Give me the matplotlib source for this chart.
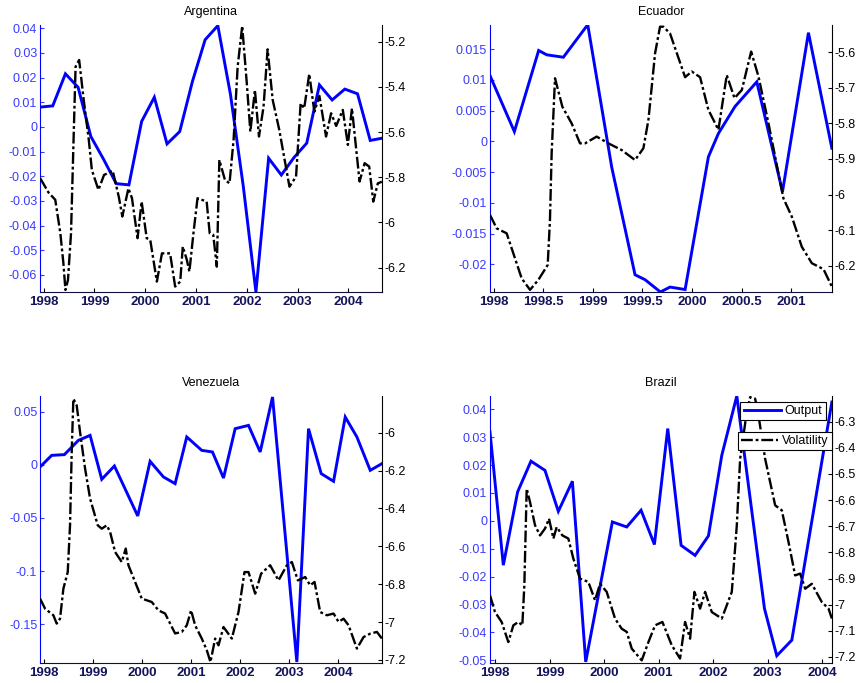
import matplotlib
matplotlib.use("Agg")
import matplotlib.pyplot as plt
from matplotlib.ticker import FuncFormatter

plt.rcParams["font.family"] = ["Liberation Sans", "DejaVu Sans"]

# ---- Argentina ----
arg_out_year = [1997.93, 1998.18, 1998.43, 1998.68, 1998.93, 1999.18, 1999.43, 1999.68,
                1999.93, 2000.18, 2000.43, 2000.68, 2000.93, 2001.18, 2001.43, 2001.68,
                2001.93, 2002.18, 2002.43, 2002.68, 2002.93, 2003.18, 2003.43, 2003.68,
                2003.93, 2004.18, 2004.43, 2004.66]
arg_out = [0.008, 0.0085, 0.0215, 0.016, -0.0039, -0.0131, -0.023, -0.0235,
           0.0022, 0.012, -0.0069, -0.0019, 0.0184, 0.0353, 0.041, 0.013,
           -0.0239, -0.0669, -0.0127, -0.0195, -0.0124, -0.0066, 0.017, 0.0109,
           0.0153, 0.0134, -0.0055, -0.0046]
arg_vol_year = [1997.934, 1998.098, 1998.23, 1998.33, 1998.39, 1998.43, 1998.48, 1998.54,
                1998.59, 1998.63, 1998.70, 1998.79, 1998.89, 1998.95, 1999.08, 1999.19,
                1999.36, 1999.48, 1999.55, 1999.67, 1999.74, 1999.85, 1999.93, 2000.03,
                2000.10, 2000.23, 2000.33, 2000.49, 2000.59, 2000.69, 2000.74, 2000.82,
                2000.87, 2000.95, 2001.03, 2001.21, 2001.27, 2001.34, 2001.41, 2001.46,
                2001.57, 2001.66, 2001.74, 2001.82, 2001.91, 2002.0, 2002.07, 2002.16,
                2002.24, 2002.33, 2002.41, 2002.51, 2002.64, 2002.84, 2002.97, 2003.06,
                2003.13, 2003.23, 2003.33, 2003.43, 2003.56, 2003.66, 2003.76, 2003.89,
                2003.99, 2004.07, 2004.22, 2004.32, 2004.41, 2004.49, 2004.58, 2004.66]
arg_vol = [-5.805, -5.868, -5.90, -6.048, -6.181, -6.299, -6.255, -6.048,
           -5.635, -5.311, -5.281, -5.458, -5.635, -5.768, -5.856, -5.79,
           -5.771, -5.886, -5.974, -5.849, -5.893, -6.07, -5.908, -6.07,
           -6.078, -6.262, -6.137, -6.137, -6.284, -6.262, -6.107, -6.166,
           -6.218, -6.048, -5.893, -5.908, -6.048, -6.055, -6.196, -5.724,
           -5.812, -5.827, -5.635, -5.311, -5.131, -5.384, -5.598, -5.414,
           -5.62, -5.488, -5.234, -5.458, -5.591, -5.842, -5.797, -5.473,
           -5.495, -5.343, -5.51, -5.44, -5.62, -5.517, -5.573, -5.502,
           -5.657, -5.495, -5.819, -5.738, -5.753, -5.908, -5.827, -5.82]

# ---- Ecuador ----
ecu_out_year = [1997.966, 1998.209, 1998.454, 1998.535, 1998.703, 1998.949, 1999.191,
                1999.426, 1999.527, 1999.682, 1999.779, 1999.931, 2000.166, 2000.267,
                2000.435, 2000.654, 2000.913, 2001.175, 2001.411]
ecu_out = [0.0106, 0.0016, 0.0148, 0.0141, 0.0137, 0.019, -0.0042,
           -0.0217, -0.0225, -0.0245, -0.0237, -0.0241, -0.0025, 0.0013,
           0.0057, 0.0097, -0.0082, 0.0177, -0.0011]
ecu_vol_year = [1997.963, 1998.03, 1998.131, 1998.215, 1998.283, 1998.367, 1998.451, 1998.545,
                1998.568, 1998.585, 1998.619, 1998.693, 1998.787, 1998.871, 1998.922, 1999.039,
                1999.157, 1999.292, 1999.426, 1999.51, 1999.561, 1999.628, 1999.678, 1999.712,
                1999.779, 1999.931, 1999.998, 2000.082, 2000.166, 2000.267, 2000.351, 2000.429,
                2000.503, 2000.597, 2000.671, 2000.772, 2000.923, 2001.007, 2001.108, 2001.209,
                2001.327, 2001.411]
ecu_vol = [-6.057, -6.095, -6.109, -6.179, -6.236, -6.268, -6.240, -6.198,
           -6.072, -5.884, -5.673, -5.753, -5.80, -5.856, -5.856, -5.837,
           -5.856, -5.875, -5.903, -5.87, -5.79, -5.603, -5.528, -5.528,
           -5.547, -5.670, -5.654, -5.670, -5.762, -5.818, -5.664, -5.729,
           -5.706, -5.598, -5.668, -5.80, -6.011, -6.062, -6.147, -6.193,
           -6.21, -6.259]

# ---- Venezuela ----
ven_out_year = [1997.925, 1998.163, 1998.422, 1998.707, 1998.946, 1999.184, 1999.442,
                1999.918, 2000.17, 2000.442, 2000.68, 2000.918, 2001.224, 2001.442,
                2001.667, 2001.905, 2002.177, 2002.415, 2002.667, 2003.163, 2003.401,
                2003.66, 2003.912, 2004.15, 2004.388, 2004.66, 2004.898]
ven_out = [-0.002, 0.0089, 0.0096, 0.023, 0.0277, -0.0136, -0.0011,
           -0.0481, 0.0033, -0.0114, -0.0177, 0.0262, 0.0136, 0.0121,
           -0.0124, 0.034, 0.0371, 0.0121, 0.0638, -0.1855, 0.034,
           -0.0083, -0.0155, 0.045, 0.0262, -0.0052, 0.0011]
ven_vol_year = [1997.925, 1998.027, 1998.197, 1998.265, 1998.333, 1998.401, 1998.49, 1998.537,
                1998.571, 1998.605, 1998.673, 1998.741, 1998.844, 1998.946, 1999.102, 1999.184,
                1999.286, 1999.354, 1999.456, 1999.592, 1999.673, 1999.728, 1999.864, 2000.0,
                2000.204, 2000.34, 2000.476, 2000.68, 2000.816, 2000.918, 2001.007, 2001.088,
                2001.224, 2001.327, 2001.401, 2001.497, 2001.565, 2001.667, 2001.837, 2001.973,
                2002.095, 2002.177, 2002.313, 2002.435, 2002.619, 2002.789, 2002.959, 2003.061,
                2003.184, 2003.333, 2003.435, 2003.524, 2003.639, 2003.776, 2003.912, 2004.014,
                2004.116, 2004.218, 2004.388, 2004.524, 2004.66, 2004.796, 2004.898]
ven_vol = [-6.876, -6.929, -6.964, -7.008, -6.982, -6.824, -6.736, -6.489,
           -6.102, -5.821, -5.856, -5.996, -6.19, -6.348, -6.489, -6.507,
           -6.489, -6.524, -6.63, -6.683, -6.612, -6.70, -6.788, -6.876,
           -6.894, -6.938, -6.955, -7.06, -7.052, -7.017, -6.938, -7.017,
           -7.087, -7.149, -7.211, -7.087, -7.123, -7.026, -7.087, -6.947,
           -6.736, -6.736, -6.85, -6.744, -6.70, -6.78, -6.70, -6.683,
           -6.78, -6.762, -6.806, -6.788, -6.947, -6.964, -6.955, -6.999,
           -6.982, -7.017, -7.14, -7.079, -7.061, -7.052, -7.087]

# ---- Brazil ----
bra_out_year = [1997.902, 1998.147, 1998.41, 1998.655, 1998.912, 1999.157, 1999.415,
                1999.66, 2000.149, 2000.413, 2000.676, 2000.921, 2001.166, 2001.411,
                2001.668, 2001.913, 2002.158, 2002.434, 2002.942, 2003.168, 2003.444,
                2004.179]
bra_out = [0.0319, -0.0159, 0.0104, 0.0214, 0.0181, 0.0034, 0.0142,
           -0.0506, -0.0004, -0.0022, 0.0038, -0.0085, 0.0331, -0.0088,
           -0.0124, -0.0054, 0.0235, 0.0448, -0.0315, -0.0484, -0.0428,
           0.0426]
bra_vol_year = [1997.902, 1997.994, 1998.116, 1998.239, 1998.331, 1998.423, 1998.496, 1998.533,
                1998.576, 1998.637, 1998.729, 1998.821, 1998.912, 1998.986, 1999.066, 1999.127,
                1999.231, 1999.341, 1999.433, 1999.555, 1999.708, 1999.831, 1999.923, 2000.045,
                2000.198, 2000.321, 2000.413, 2000.505, 2000.688, 2000.811, 2000.933, 2001.068,
                2001.239, 2001.392, 2001.484, 2001.576, 2001.656, 2001.76, 2001.852, 2001.974,
                2002.158, 2002.342, 2002.434, 2002.495, 2002.599, 2002.678, 2002.77, 2002.832,
                2002.954, 2003.138, 2003.26, 2003.383, 2003.505, 2003.597, 2003.689, 2003.811,
                2003.995, 2004.118, 2004.179]
bra_vol = [-6.964, -7.028, -7.066, -7.143, -7.079, -7.066, -7.079, -6.926,
           -6.556, -6.607, -6.696, -6.735, -6.709, -6.671, -6.747, -6.703,
           -6.735, -6.747, -6.824, -6.90, -6.913, -6.983, -6.92, -6.951,
           -7.053, -7.092, -7.104, -7.168, -7.213, -7.143, -7.079, -7.066,
           -7.155, -7.206, -7.066, -7.13, -6.951, -7.015, -6.951, -7.028,
           -7.053, -6.951, -6.696, -6.442, -6.289, -6.206, -6.212, -6.276,
           -6.442, -6.62, -6.639, -6.76, -6.888, -6.881, -6.939, -6.92,
           -6.99, -7.015, -7.053]

BLUE = "#0000ff"
TICK_BLUE = "#3a3aff"
XLAB = "#14145a"

fmt = FuncFormatter(lambda v, p: "%g" % round(v, 6))


def panel(fig, rect, title, ox, oy, vx, vy, ylim_l, ylim_r, xticks, yticks_l, yticks_r):
    ax = fig.add_axes(rect)
    ax2 = ax.twinx()
    l1, = ax.plot(ox, oy, color=BLUE, lw=2.1, solid_joinstyle="miter")
    l2, = ax2.plot(vx, vy, color="black", lw=1.7, linestyle=(0, (5, 1.2, 1.2, 1.2)))
    ax.set_xlim(min(ox[0], vx[0]), max(ox[-1], vx[-1]))
    ax.set_ylim(*ylim_l)
    ax2.set_ylim(*ylim_r)
    ax.set_xticks(xticks)
    ax.set_yticks(yticks_l)
    ax2.set_yticks(yticks_r)
    ax.xaxis.set_major_formatter(fmt)
    ax.yaxis.set_major_formatter(fmt)
    ax2.yaxis.set_major_formatter(fmt)
    ax.tick_params(axis="y", direction="in", colors=TICK_BLUE, labelsize=9, length=3, pad=2)
    ax.tick_params(axis="x", direction="in", labelcolor=XLAB, labelsize=9.5, length=3, pad=3)
    for lab in ax.get_xticklabels():
        lab.set_fontweight("bold")
    ax2.tick_params(axis="y", direction="in", colors="black", labelsize=9, length=3, pad=2)
    for a in (ax, ax2):
        a.spines["top"].set_visible(False)
    ax.spines["left"].set_color(BLUE)
    ax2.spines["left"].set_visible(False)
    ax.spines["right"].set_visible(False)
    ax2.spines["right"].set_color("black")
    ax.spines["bottom"].set_color("#101040")
    ax2.spines["bottom"].set_visible(False)
    ax.set_title(title, fontsize=9, pad=7)
    return ax, ax2, l1, l2


fig = plt.figure(figsize=(8.59, 6.83), dpi=100)

w, h = 0.398, 0.391
panel(fig, [0.0466, 0.5725, w, h], "Argentina", arg_out_year, arg_out, arg_vol_year, arg_vol,
      (-0.0669, 0.0413), (-6.308, -5.126), range(1998, 2005),
      [-0.06, -0.05, -0.04, -0.03, -0.02, -0.01, 0, 0.01, 0.02, 0.03, 0.04],
      [-6.2, -6.0, -5.8, -5.6, -5.4, -5.2])
panel(fig, [0.5704, 0.5725, w, h], "Ecuador", ecu_out_year, ecu_out, ecu_vol_year, ecu_vol,
      (-0.0245, 0.01896), (-6.274, -5.523), [1998, 1998.5, 1999, 1999.5, 2000, 2000.5, 2001],
      [-0.02, -0.015, -0.01, -0.005, 0, 0.005, 0.01, 0.015],
      [-6.2, -6.1, -6.0, -5.9, -5.8, -5.7, -5.6])
panel(fig, [0.0466, 0.0293, w, h], "Venezuela", ven_out_year, ven_out, ven_vol_year, ven_vol,
      (-0.1864, 0.0648), (-7.216, -5.806), range(1998, 2005),
      [-0.15, -0.1, -0.05, 0, 0.05],
      [-7.2, -7.0, -6.8, -6.6, -6.4, -6.2, -6.0])
ax, ax2, l1, l2 = panel(fig, [0.5704, 0.0293, w, h], "Brazil", bra_out_year, bra_out,
                        bra_vol_year, bra_vol, (-0.051, 0.0448), (-7.223, -6.2015),
                        range(1998, 2005),
                        [-0.05, -0.04, -0.03, -0.02, -0.01, 0, 0.01, 0.02, 0.03, 0.04],
                        [-7.2, -7.1, -7.0, -6.9, -6.8, -6.7, -6.6, -6.5, -6.4, -6.3])

leg_kw = dict(fontsize=9, fancybox=False, framealpha=1, edgecolor="black",
              borderpad=0.25, handlelength=3.0, handletextpad=0.3, borderaxespad=0)
leg1 = ax2.legend([l1], ["Output"], loc="upper right", bbox_to_anchor=(0.982, 0.978), **leg_kw)
leg1.get_frame().set_linewidth(0.8)
ax2.add_artist(leg1)
leg2 = ax2.legend([l2], ["Volatility"], loc="upper right", bbox_to_anchor=(1.0, 0.865), **leg_kw)
leg2.get_frame().set_linewidth(0.8)

fig.savefig("out.png", dpi=100)
